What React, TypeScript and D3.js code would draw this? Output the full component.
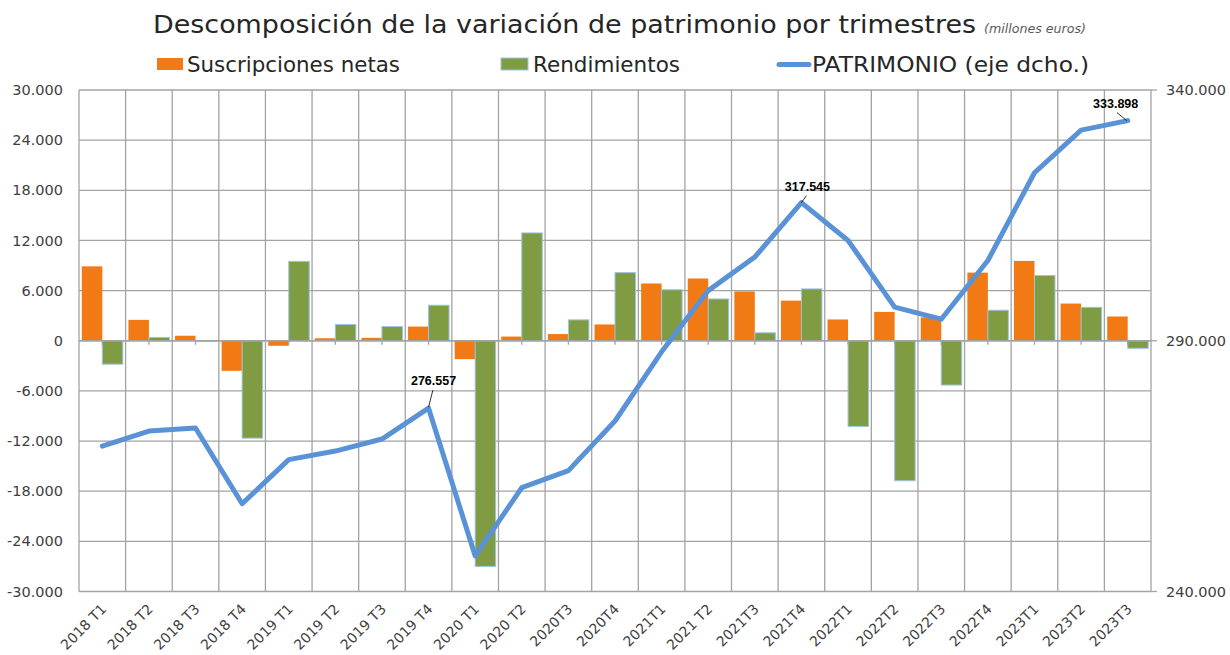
import React from "react";
import * as d3 from "d3";

const categories = [
  "2018 T1", "2018 T2", "2018 T3", "2018 T4",
  "2019 T1", "2019 T2", "2019 T3", "2019 T4",
  "2020 T1", "2020 T2", "2020T3", "2020T4",
  "2021T1", "2021 T2", "2021T3", "2021T4",
  "2022T1", "2022T2", "2022T3", "2022T4",
  "2023T1", "2023T2", "2023T3",
];

const suscripciones = [
  8900, 2500, 600, -3600,
  -600, 300, 350, 1700,
  -2200, 500, 800, 1950,
  6850, 7450, 5900, 4800,
  2550, 3450, 2800, 8150,
  9550, 4450, 2900,
];

const rendimientos = [
  -2800, 400, -100, -11650,
  9500, 1950, 1700, 4250,
  -27000, 12900, 2500, 8150,
  6100, 5000, 950, 6200,
  -10250, -16750, -5300, 3650,
  7800, 4000, -900,
];

const patrimonio = [
  269000, 272000, 272600, 257500,
  266300, 268000, 270400, 276557,
  247100, 260700, 264100, 274000,
  287800, 300000, 306700, 317545,
  310000, 296700, 294300, 306000,
  323500, 332000, 333898,
];

const leftTicks = [30000, 24000, 18000, 12000, 6000, 0, -6000, -12000, -18000, -24000, -30000];
const rightTicks = [340000, 290000, 240000];
const labeledPoints = [7, 15, 22];

const legendLabels = ["Suscripciones netas", "Rendimientos", "PATRIMONIO (eje dcho.)"];
const titleText = "Descomposición de la variación de patrimonio por trimestres";
const subtitleText = "(millones euros)";

const fmt = (v: number) => d3.format(",")(v).replace(/,/g, ".").replace(/\u2212/g, "-");

export default function App() {
  const W = 1230, H = 655;
  const L = 79, R = 1151, T = 90, B = 591.5;
  const FONT = "'DejaVu Sans', sans-serif";
  const orange = "#F27A14";
  const green = "#7F9C43";
  const greenStroke = "#9DC3E6";
  const blue = "#5A92D8";
  const grid = "#A3A3A3";
  const textCol = "#404040";

  const x = d3.scaleBand<string>().domain(categories).range([L, R]).padding(0);
  const inner = d3.scaleBand<string>().domain(["s", "r"]).range([0, x.bandwidth()]).paddingInner(0).paddingOuter(0.137);
  const y = d3.scaleLinear().domain([-30000, 30000]).range([B, T]);
  const y2 = d3.scaleLinear().domain([240000, 340000]).range([B, T]);

  const line = d3.line<number>()
    .x((_, i) => (x(categories[i]) as number) + x.bandwidth() / 2)
    .y((d) => y2(d));

  const labelOffsets: Record<number, { tx: number; ty: number; lx1: number; ly1: number; lx2: number; ly2: number }> = {
    7: { tx: 5, ty: -23, lx1: 4.3, ly1: -18, lx2: 0, ly2: -1 },
    15: { tx: 6, ty: -12, lx1: 5, ly1: -7, lx2: 0, ly2: 0 },
    22: { tx: -12, ty: -13, lx1: -10.7, ly1: -8, lx2: -1, ly2: 0 },
  };

  const zeroY = y(0);

  return (
    <svg width={W} height={H} style={{ position: "absolute", left: 0, top: 0, background: "#fff" }} fontFamily={FONT}>
      <rect x={0} y={0} width={W} height={H} fill="#fff" />
      {/* Title */}
      <text x={153} y={33} fontSize={25} fill="#262626" textLength={823} lengthAdjust="spacingAndGlyphs">{titleText}</text>
      <text x={984} y={33} fontSize={12.5} fontStyle="italic" fill="#595959" textLength={102} lengthAdjust="spacingAndGlyphs">{subtitleText}</text>

      {/* Legend */}
      <rect x={157} y={58} width={26} height={12} fill={orange} />
      <text x={187} y={71.5} fontSize={21} fill="#262626" textLength={213} lengthAdjust="spacingAndGlyphs">{legendLabels[0]}</text>
      <rect x={501} y={58} width={27} height={12} fill={green} stroke={greenStroke} strokeWidth={1} />
      <text x={533} y={71.5} fontSize={21} fill="#262626" textLength={147} lengthAdjust="spacingAndGlyphs">{legendLabels[1]}</text>
      <line x1={779} x2={809} y1={64.5} y2={64.5} stroke={blue} strokeWidth={5} strokeLinecap="round" />
      <text x={812} y={71.5} fontSize={21} fill="#262626" textLength={277} lengthAdjust="spacingAndGlyphs">{legendLabels[2]}</text>

      {/* Horizontal gridlines */}
      {leftTicks.map((t) => (
        <line key={"h" + t} x1={L} x2={R} y1={y(t)} y2={y(t)} stroke={grid} strokeWidth={1.3} />
      ))}
      {/* Vertical gridlines */}
      {categories.map((c) => (
        <line key={"v" + c} x1={x(c) as number} x2={x(c) as number} y1={T} y2={B} stroke={grid} strokeWidth={1.3} />
      ))}
      <line x1={R} x2={R} y1={T} y2={B} stroke={grid} strokeWidth={1.3} />
      {/* Right axis ticks */}
      {rightTicks.map((t) => (
        <line key={"rt" + t} x1={R} x2={R + 6} y1={y2(t)} y2={y2(t)} stroke={grid} strokeWidth={1.3} />
      ))}

      {/* Bars */}
      {categories.map((c, i) => {
        const s = suscripciones[i];
        const r = rendimientos[i];
        const x0 = x(c) as number;
        return (
          <g key={"b" + c}>
            <rect x={x0 + (inner("s") as number)} width={inner.bandwidth()} y={Math.min(y(s), zeroY)} height={Math.abs(y(s) - zeroY)} fill={orange} />
            <rect x={x0 + (inner("r") as number)} width={inner.bandwidth()} y={Math.min(y(r), zeroY)} height={Math.abs(y(r) - zeroY)} fill={green} stroke={greenStroke} strokeWidth={1} />
          </g>
        );
      })}

      {/* Zero axis with ticks */}
      <line x1={L} x2={R} y1={zeroY} y2={zeroY} stroke={grid} strokeWidth={1.3} />
      {categories.map((c) => {
        const cx = (x(c) as number) + x.bandwidth() / 2;
        return <line key={"zt" + c} x1={cx} x2={cx} y1={zeroY} y2={zeroY + 4} stroke={grid} strokeWidth={1.3} />;
      })}

      {/* Line */}
      <path d={line(patrimonio) || ""} fill="none" stroke={blue} strokeWidth={5} strokeLinejoin="round" strokeLinecap="round" />

      {/* Data labels */}
      {labeledPoints.map((i) => {
        const px = (x(categories[i]) as number) + x.bandwidth() / 2;
        const py = y2(patrimonio[i]);
        const o = labelOffsets[i];
        return (
          <g key={"dl" + i}>
            <line x1={px + o.lx1} y1={py + o.ly1} x2={px + o.lx2} y2={py + o.ly2} stroke="#000" strokeWidth={0.8} />
            <text x={px + o.tx} y={py + o.ty} fontSize={12.5} fontWeight="bold" fontFamily="'Liberation Sans', Arial, sans-serif" fill="#000" textAnchor="middle">{fmt(patrimonio[i])}</text>
          </g>
        );
      })}

      {/* Left axis labels */}
      {leftTicks.map((t) => (
        <text key={"lt" + t} x={63} y={y(t)} dy="0.35em" fontSize={14.5} fill={textCol} textAnchor="end">{fmt(t)}</text>
      ))}
      {/* Right axis labels */}
      {rightTicks.map((t) => (
        <text key={"rl" + t} x={1166} y={y2(t)} dy="0.35em" fontSize={14.5} fill={textCol} textAnchor="start">{fmt(t)}</text>
      ))}
      {/* X labels */}
      {categories.map((c) => {
        const cx = (x(c) as number) + x.bandwidth() / 2 + 5;
        const cy = 610;
        return (
          <text key={"xl" + c} x={cx} y={cy} fontSize={14} fill={textCol} textAnchor="end" transform={`rotate(-45, ${cx}, ${cy})`}>{c}</text>
        );
      })}
    </svg>
  );
}
